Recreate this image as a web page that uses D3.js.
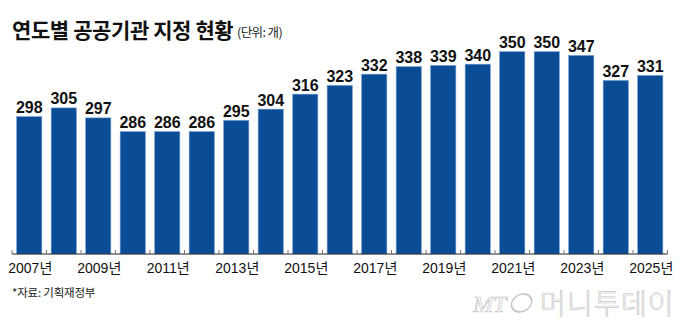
<!DOCTYPE html>
<html>
<head>
<meta charset="utf-8">
<script src="https://cdn.jsdelivr.net/npm/d3@7/dist/d3.min.js"></script>
<style>
  html, body { margin: 0; padding: 0; background: #fff; }
  svg { display: block; }
</style>
</head>
<body>
<svg id="chart" width="680" height="329"></svg>
<script>
// Number of designated public institutions per year
const years = ["2007","2008","2009","2010","2011","2012","2013","2014","2015","2016",
               "2017","2018","2019","2020","2021","2022","2023","2024","2025"];
const counts = [298, 305, 297, 286, 286, 286, 295, 304, 316, 323,
                332, 338, 339, 340, 350, 350, 347, 327, 331];
const tickYears = ["2007","2009","2011","2013","2015","2017","2019","2021","2023","2025"];

const titleText = "연도별 공공기관 지정 현황";
const unitText = "(단위: 개)";
const sourceText = "*자료: 기획재정부";

const W = 680, H = 329;
const margin = { left: 12, right: 12.5, top: 52, bottom: 75 };
const baseY = H - margin.bottom;   // axis line

const svg = d3.select("#chart");
const narrow = "'Liberation Sans Narrow', 'Liberation Sans', Arial, 'Noto Sans CJK KR', sans-serif";
const kr = "'Noto Sans CJK KR', 'Liberation Sans', sans-serif";

const x = d3.scaleBand()
  .domain(years)
  .range([margin.left, W - margin.right])
  .paddingInner(0.27)
  .paddingOuter(0.135);

const y = d3.scaleLinear()
  .domain([188, 350])
  .range([baseY, 51.7]);

// Title
svg.append("text")
  .attr("x", 12).attr("y", 38)
  .attr("font-family", kr).attr("font-weight", 700)
  .attr("font-size", 21).attr("fill", "#111")
  .attr("letter-spacing", -0.4)
  .text(titleText);

svg.append("text")
  .attr("x", 237).attr("y", 37)
  .attr("font-family", kr).attr("font-size", 12.5).attr("fill", "#222")
  .attr("letter-spacing", -0.6)
  .text(unitText);

// Bars
svg.append("g").selectAll("rect")
  .data(years)
  .join("rect")
  .attr("x", d => x(d))
  .attr("width", x.bandwidth())
  .attr("y", (d, i) => y(counts[i]))
  .attr("height", (d, i) => baseY - y(counts[i]))
  .attr("fill", "#0a4c96")
  .attr("stroke", "#6f9ed1")
  .attr("stroke-width", 0.6);

// Value labels
svg.append("g").selectAll("text")
  .data(years)
  .join("text")
  .attr("x", d => x(d) + x.bandwidth() / 2)
  .attr("y", (d, i) => y(counts[i]) - 3.5)
  .attr("text-anchor", "middle")
  .attr("font-family", narrow).attr("font-weight", 700)
  .attr("font-size", 16).attr("fill", "#111")
  .text((d, i) => counts[i]);

// Axis: baseline with small ticks at band boundaries
const step = x.step();
const boundaries = d3.range(years.length + 1).map(i => margin.left + i * step);
const axisG = svg.append("g");
axisG.append("line")
  .attr("x1", margin.left).attr("x2", W - margin.right)
  .attr("y1", baseY).attr("y2", baseY)
  .attr("stroke", "#222").attr("stroke-width", 1.2);
axisG.selectAll("line.tick")
  .data(boundaries)
  .join("line")
  .attr("class", "tick")
  .attr("x1", d => d).attr("x2", d => d)
  .attr("y1", baseY - 4).attr("y2", baseY)
  .attr("stroke", "#777").attr("stroke-width", 1);

// Year labels (every other year)
axisG.selectAll("text")
  .data(tickYears)
  .join("text")
  .attr("x", d => x(d) + x.bandwidth() / 2 + 1)
  .attr("y", baseY + 18.5)
  .attr("text-anchor", "middle")
  .attr("font-family", narrow).attr("font-size", 14).attr("fill", "#111")
  .text(d => d + "년");

// Source
svg.append("text")
  .attr("x", 12).attr("y", 297)
  .attr("font-family", kr).attr("font-size", 11.5).attr("fill", "#222")
  .attr("letter-spacing", -0.2)
  .text(sourceText);

// Publisher mark
const mark = svg.append("g").attr("fill", "none").attr("stroke", "#c4c4c4").attr("stroke-width", 0.7);
mark.append("text")
  .attr("x", 473).attr("y", 312)
  .attr("font-family", "'Liberation Serif', serif").attr("font-style", "italic")
  .attr("font-size", 24)
  .attr("fill", "#fff")
  .text("MT");
mark.append("ellipse")
  .attr("cx", 522).attr("cy", 303).attr("rx", 10).attr("ry", 9)
  .attr("transform", "skewX(-12) translate(64,0)")
  .attr("stroke-width", 1.4);
mark.append("text")
  .attr("x", 540).attr("y", 314)
  .attr("font-family", kr).attr("font-weight", 300)
  .attr("font-size", 28)
  .attr("fill", "#fff")
  .attr("letter-spacing", 1.2)
  .text("머니투데이");
</script>
</body>
</html>
